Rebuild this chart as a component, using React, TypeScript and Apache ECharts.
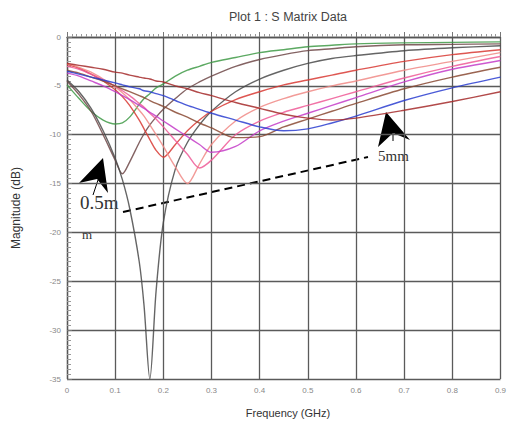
import React, { useEffect, useRef } from "react";
import * as echarts from "echarts";

const freqs = [0, 0.025, 0.05, 0.075, 0.1, 0.115, 0.13, 0.15, 0.16, 0.172, 0.185, 0.2, 0.225, 0.25, 0.275, 0.3, 0.35, 0.4, 0.45, 0.5, 0.55, 0.6, 0.7, 0.8, 0.9];

const greenCurve = [-4.9, -6.3, -7.6, -8.5, -8.9, -8.8, -8.2, -6.9, -6.3, -5.8, -5.2, -4.8, -4.0, -3.4, -3.0, -2.6, -2.1, -1.6, -1.3, -1.0, -0.85, -0.7, -0.6, -0.55, -0.5];
const darkBrownCurve = [-4.5, -5.9, -7.6, -10.0, -12.6, -14.0, -12.8, -10.8, -9.9, -9.0, -8.2, -7.4, -6.3, -5.3, -4.6, -4.0, -3.0, -2.3, -1.8, -1.4, -1.2, -1.0, -0.8, -0.75, -0.7];
const deepGrayCurve = [-4.4, -5.6, -7.3, -9.6, -12.4, -14.6, -17.5, -23, -27.5, -35, -26, -19, -13.5, -10.8, -9.0, -7.6, -5.6, -4.3, -3.4, -2.7, -2.2, -1.9, -1.4, -1.1, -0.9];
const redCurve = [-2.8, -3.2, -3.8, -4.5, -5.4, -6.1, -7.0, -8.5, -9.4, -10.5, -11.6, -12.3, -11.0, -9.6, -8.5, -7.6, -6.4, -5.6, -4.9, -4.4, -3.9, -3.4, -2.5, -1.8, -1.3];
const salmonCurve = [-2.7, -3.1, -3.6, -4.3, -5.1, -5.7, -6.4, -7.5, -8.1, -9.0, -10.0, -11.2, -13.3, -15.0, -13.0, -11.0, -8.6, -7.2, -6.3, -5.6, -5.0, -4.5, -3.4, -2.5, -1.6];
const pinkCurve = [-3.0, -3.3, -3.8, -4.4, -5.0, -5.5, -6.0, -6.8, -7.2, -7.8, -8.4, -9.2, -10.6, -12.0, -13.4, -12.6, -10.0, -8.6, -7.7, -7.0, -6.3, -5.6, -4.2, -3.0, -2.0];
const magentaCurve = [-3.7, -4.0, -4.5, -5.0, -5.6, -6.0, -6.4, -7.0, -7.3, -7.7, -8.1, -8.6, -9.4, -10.2, -11.0, -11.8, -11.2, -9.6, -8.6, -7.8, -7.0, -6.2, -4.6, -3.3, -2.4];
const brownCurve = [-3.4, -3.7, -4.1, -4.5, -5.0, -5.3, -5.6, -6.0, -6.2, -6.5, -6.8, -7.1, -7.7, -8.2, -8.8, -9.3, -10.3, -10.2, -9.2, -8.4, -7.6, -6.8, -5.3, -4.1, -3.1];
const blueCurve = [-3.5, -3.8, -4.1, -4.4, -4.7, -4.9, -5.1, -5.3, -5.5, -5.6, -5.8, -6.0, -6.5, -7.0, -7.4, -7.8, -8.5, -9.2, -9.6, -9.4, -8.8, -8.1, -6.5, -5.2, -4.1];
const darkRedCurve = [-2.7, -2.9, -3.1, -3.3, -3.6, -3.7, -3.9, -4.1, -4.2, -4.3, -4.5, -4.6, -5.0, -5.3, -5.7, -6.0, -6.7, -7.3, -7.9, -8.3, -8.5, -8.3, -7.5, -6.6, -5.6];

const curves = [
  { name: "c1", values: greenCurve, color: "#3f9a46" },
  { name: "c2", values: darkBrownCurve, color: "#6e4848" },
  { name: "c3", values: deepGrayCurve, color: "#4a4a4a" },
  { name: "c4", values: redCurve, color: "#d83a34" },
  { name: "c5", values: salmonCurve, color: "#f08a86" },
  { name: "c6", values: pinkCurve, color: "#ee5a96" },
  { name: "c7", values: magentaCurve, color: "#c43cc8" },
  { name: "c8", values: brownCurve, color: "#8a4a34" },
  { name: "c9", values: blueCurve, color: "#2c3ed0" },
  { name: "c10", values: darkRedCurve, color: "#a42a2a" },
];

const xTicks = ["0", "0.1", "0.2", "0.3", "0.4", "0.5", "0.6", "0.7", "0.8", "0.9"];

const titleText = "Plot 1 : S Matrix Data";
const yName = "Magnitude (dB)";
const xName = "Frequency (GHz)";
const label1a = "0.5m";
const label1b = "m";
const label2 = "5mm";

const sans = "'Liberation Sans', Arial, sans-serif";
const serif = "'Liberation Serif', 'DejaVu Serif', serif";

export default function App() {
  const ref = useRef<HTMLDivElement>(null);
  useEffect(() => {
    if (!ref.current) return;
    const chart = echarts.init(ref.current, null, { renderer: "svg" });
    const option: any = {
      animation: false,
      backgroundColor: "#ffffff",
      grid: { left: 67, top: 37, right: 2, bottom: 44, containLabel: false },
      xAxis: {
        type: "value",
        min: 0,
        max: 0.9,
        interval: 0.1,
        axisLine: { show: true, lineStyle: { color: "#555", width: 1.3 } },
        axisTick: { show: true, inside: true, length: 5, lineStyle: { color: "#777" } },
        minorTick: { show: true, splitNumber: 10, length: 3, lineStyle: { color: "#999" } },
        splitLine: { show: true, lineStyle: { color: "#5a5a5a", width: 1.3 } },
        axisLabel: {
          color: "#888",
          fontSize: 8,
          margin: 7,
          fontFamily: sans,
          formatter: (v: number) => xTicks[Math.round(v * 10)] ?? "",
        },
      },
      yAxis: {
        type: "value",
        min: -35,
        max: 0,
        interval: 5,
        axisLine: { show: true, lineStyle: { color: "#555", width: 1.3 } },
        axisTick: { show: true, inside: true, length: 5, lineStyle: { color: "#777" } },
        minorTick: { show: true, splitNumber: 10, length: 4, lineStyle: { color: "#999" } },
        splitLine: { show: true, lineStyle: { color: "#5a5a5a", width: 1.3 } },
        axisLabel: { color: "#888", fontSize: 8, margin: 6, fontFamily: sans },
      },
      series: curves.map((c) => ({
        name: c.name,
        type: "line",
        showSymbol: false,
        smooth: 0.3,
        clip: true,
        lineStyle: { color: c.color, width: 1.4, opacity: 0.85 },
        data: freqs.map((f, i) => [f, c.values[i]]),
      })),
      graphic: [
        {
          type: "text",
          x: 288,
          y: 10,
          style: { text: titleText, fontSize: 12.5, fontFamily: sans, fill: "#444", align: "center", verticalAlign: "top" },
        },
        {
          type: "text",
          x: 10,
          y: 208,
          rotation: Math.PI / 2,
          style: {
            text: yName,
            fontSize: 12,
            fontFamily: sans,
            fill: "#333",
            align: "center",
            verticalAlign: "top",
          },
        },
        {
          type: "text",
          x: 288,
          y: 407,
          style: {
            text: xName,
            fontSize: 11,
            fontFamily: sans,
            fill: "#333",
            align: "center",
            verticalAlign: "top",
          },
        },
        {
          type: "line",
          shape: { x1: 123, y1: 212, x2: 368, y2: 157 },
          style: { stroke: "#000", lineWidth: 2, lineDash: [8, 5] },
        },
        {
          type: "polygon",
          shape: { points: [[103, 158], [79, 183], [97, 179], [108, 193]] },
          style: { fill: "#000" },
        },
        {
          type: "line",
          shape: { x1: 98, y1: 180, x2: 93, y2: 195 },
          style: { stroke: "#000", lineWidth: 1 },
        },
        {
          type: "polygon",
          shape: { points: [[386, 112], [378, 147], [393, 133], [410, 140]] },
          style: { fill: "#000" },
        },
        {
          type: "line",
          shape: { x1: 393, y1: 133, x2: 393, y2: 141 },
          style: { stroke: "#000", lineWidth: 1 },
        },
        {
          type: "text",
          x: 80,
          y: 193,
          style: { text: label1a, fontSize: 19, fontFamily: serif, fill: "#333", verticalAlign: "top" },
        },
        {
          type: "text",
          x: 82,
          y: 228,
          style: { text: label1b, fontSize: 13, fontFamily: serif, fill: "#333", verticalAlign: "top" },
        },
        {
          type: "text",
          x: 378,
          y: 148,
          style: { text: label2, fontSize: 15, fontFamily: serif, fill: "#333", verticalAlign: "top" },
        },
      ],
    };
    chart.setOption(option);
    return () => chart.dispose();
  }, []);
  return (
    <div
      ref={ref}
      style={{ position: "fixed", left: 0, top: 0, width: 509, height: 423, background: "#fff" }}
    />
  );
}
